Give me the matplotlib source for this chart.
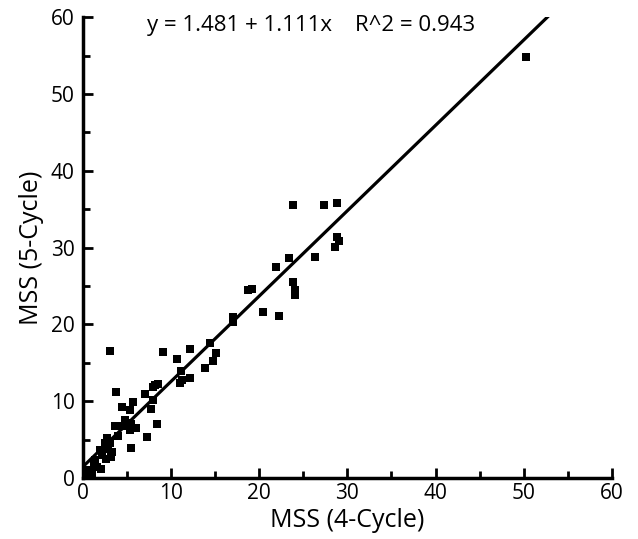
import matplotlib.pyplot as plt
from matplotlib.ticker import MultipleLocator
import numpy as np

# MSS values (4-cycle vs 5-cycle)
mss_4 = [50.3, 23.8, 27.3, 28.8, 28.8, 29.1, 28.6, 26.3, 23.4, 21.9,
         19.2, 18.7, 23.8, 24.0, 24.0, 20.4, 22.2, 17.0, 17.0,
         3.1, 9.1, 12.2, 10.7, 15.1, 14.7, 14.4, 13.8, 11.1, 12.1,
         11.2, 11.0, 8.5, 7.9, 7.0, 3.7, 5.7, 4.4, 7.9, 8.2,
         2.7, 2.5, 3.1, 2.2, 1.9, 2.6, 1.4, 1.2, 0.7, 0.5,
         1.0, 2.0, 3.2, 4.0, 6.0, 5.5, 4.5, 2.8, 1.6, 3.6,
         4.8, 5.0, 5.3, 5.4, 7.3, 8.4, 7.7, 5.3, 3.3]
mss_5 = [54.8, 35.5, 35.5, 35.8, 31.4, 30.9, 30.1, 28.8, 28.6, 27.5,
         24.6, 24.5, 25.5, 24.5, 23.8, 21.6, 21.1, 21.0, 20.3,
         16.5, 16.4, 16.8, 15.5, 16.3, 15.2, 17.6, 14.3, 13.9, 13.0,
         12.8, 12.4, 12.2, 11.8, 11.0, 11.2, 9.9, 9.2, 10.2, 12.1,
         5.2, 4.6, 4.6, 3.0, 3.6, 2.5, 2.3, 1.8, 1.0, 0.6,
         0.5, 1.2, 2.8, 5.5, 6.5, 7.0, 6.8, 3.8, 1.5, 6.8,
         7.6, 7.2, 6.2, 3.9, 5.3, 7.1, 9.0, 8.9, 3.4]

intercept = 1.481
slope = 1.111
r2 = 0.943

plt.rcParams['font.family'] = ['Open Sans', 'DejaVu Sans']

fig = plt.figure(figsize=(6.38, 5.39), dpi=100)
ax = fig.add_axes([0.130, 0.113, 0.829, 0.855])

ax.scatter(mss_4, mss_5, marker='s', s=30, c='black', linewidths=0, zorder=3)

# regression line
xs = np.array([0, 60])
ax.plot(xs, intercept + slope * xs, color='black', linewidth=2.3)

ax.set_xlim(0, 60)
ax.set_ylim(0, 60)
ax.xaxis.set_major_locator(MultipleLocator(10))
ax.xaxis.set_minor_locator(MultipleLocator(5))
ax.yaxis.set_major_locator(MultipleLocator(10))
ax.yaxis.set_minor_locator(MultipleLocator(5))
ax.tick_params(which='both', direction='in', width=2, labelsize=15)
ax.tick_params(axis='y', pad=6)
ax.tick_params(which='major', length=7)
ax.tick_params(which='minor', length=5)

for side in ['top', 'right']:
    ax.spines[side].set_visible(False)
for side in ['left', 'bottom']:
    ax.spines[side].set_linewidth(2.5)

ax.set_xlabel('MSS (4-Cycle)', fontsize=18, labelpad=3)
ax.set_ylabel('MSS (5-Cycle)', fontsize=18, labelpad=5)

ax.text(7.3, 58.9, 'y = %.3f + %.3fx    R^2 = %.3f' % (intercept, slope, r2),
        fontsize=16, va='center', ha='left')

plt.savefig('out.png', dpi=100)
